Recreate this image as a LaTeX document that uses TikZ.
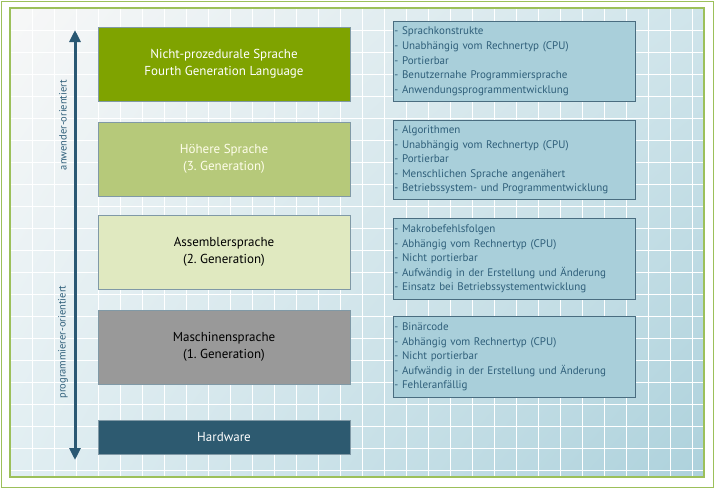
\documentclass[tikz,border=0pt]{standalone}
\usepackage{fontspec}
\setmainfont{PT Sans}
\usetikzlibrary{arrows.meta,shadings}
\definecolor{txt}{HTML}{2F5F7A}
\definecolor{arr}{HTML}{2A5873}
\definecolor{bl}{HTML}{A9CFDA}
\definecolor{blb}{HTML}{4A6D80}
\definecolor{gb}{HTML}{9CC05A}
\tikzset{
 lbox/.style={draw=blb!70,line width=0.6pt,minimum width=252pt,minimum height=74pt,align=center,font=\fontsize{13}{17}\selectfont,inner sep=0pt},
 rbox/.style={draw=blb,line width=0.8pt,fill=bl,minimum width=242pt,anchor=north west,align=left,text=txt,font=\fontsize{11}{14.6}\selectfont,inner xsep=-1.5pt,inner ysep=4pt,text width=240pt},
}
\begin{document}
\begin{tikzpicture}[x=1pt,y=-1pt]
\useasboundingbox (0,0) rectangle (714,488);
\fill[white] (0,0) rectangle (714,488);
\draw[gb,line width=1pt] (1,1) rectangle (713,487);
\shade[upper left=gray!6, upper right=bl!55, lower left=bl!35, lower right=bl!95] (10,8) rectangle (704,477);
\foreach \x in {32,54,...,704} \draw[white,line width=1pt] (\x,8) -- (\x,477);
\foreach \y in {30,52,...,477} \draw[white,line width=1pt] (10,\y) -- (704,\y);
\draw[gb,line width=1.2pt] (10,8) rectangle (704,477);
\node[lbox,fill={rgb,255:red,127;green,163;blue,0},text=white] (n4) at (224,64) {Nicht-prozedurale Sprache\\Fourth Generation Language};
\node[lbox,fill={rgb,255:red,182;green,201;blue,122},text=white!92!yellow] (n3) at (224,159) {Höhere Sprache\\(3.\ Generation)};
\node[lbox,fill={rgb,255:red,224;green,233;blue,192},text=black] (n2) at (224,252) {Assemblersprache\\(2.\ Generation)};
\node[lbox,fill={rgb,255:red,153;green,153;blue,153},text=black] (n1) at (224,347) {Maschinensprache\\(1.\ Generation)};
\node[lbox,fill={rgb,255:red,45;green,90;blue,112},text=white,minimum height=34pt] (hw) at (224,437) {Hardware};
\node[rbox,minimum height=80pt] (r4) at (393,21) {- Sprachkonstrukte\\- Unabhängig vom Rechnertyp (CPU)\\- Portierbar\\- Benutzernahe Programmiersprache\\- Anwendungsprogrammentwicklung};
\node[rbox,minimum height=79pt] (r3) at (393,120) {- Algorithmen\\- Unabhängig vom Rechnertyp (CPU)\\- Portierbar\\- Menschlichen Sprache angenähert\\- Betriebssystem- und Programmentwicklung};
\node[rbox,minimum height=81pt] (r2) at (393,218) {- Makrobefehlsfolgen\\- Abhängig vom Rechnertyp (CPU)\\- Nicht portierbar\\- Aufwändig in der Erstellung und Änderung\\- Einsatz bei Betriebssystementwicklung};
\node[rbox,minimum height=81pt] (r1) at (393,316) {- Binärcode\\- Abhängig vom Rechnertyp (CPU)\\- Nicht portierbar\\- Aufwändig in der Erstellung und Änderung\\- Fehleranfällig};
\coordinate (top) at (75,30);
\coordinate (bot) at (75,460);
\draw[arr,line width=3pt,{Triangle[length=12pt,width=11pt]}-{Triangle[length=12pt,width=11pt]}] (bot) -- (top);
\node[rotate=90,text=txt,font=\fontsize{10.5}{12}\selectfont] (ao) at (63,125) {anwender-orientiert};
\node[rotate=90,text=txt,font=\fontsize{10.5}{12}\selectfont] (po) at (63,342) {programmierer-orientiert};
\end{tikzpicture}
\end{document}
